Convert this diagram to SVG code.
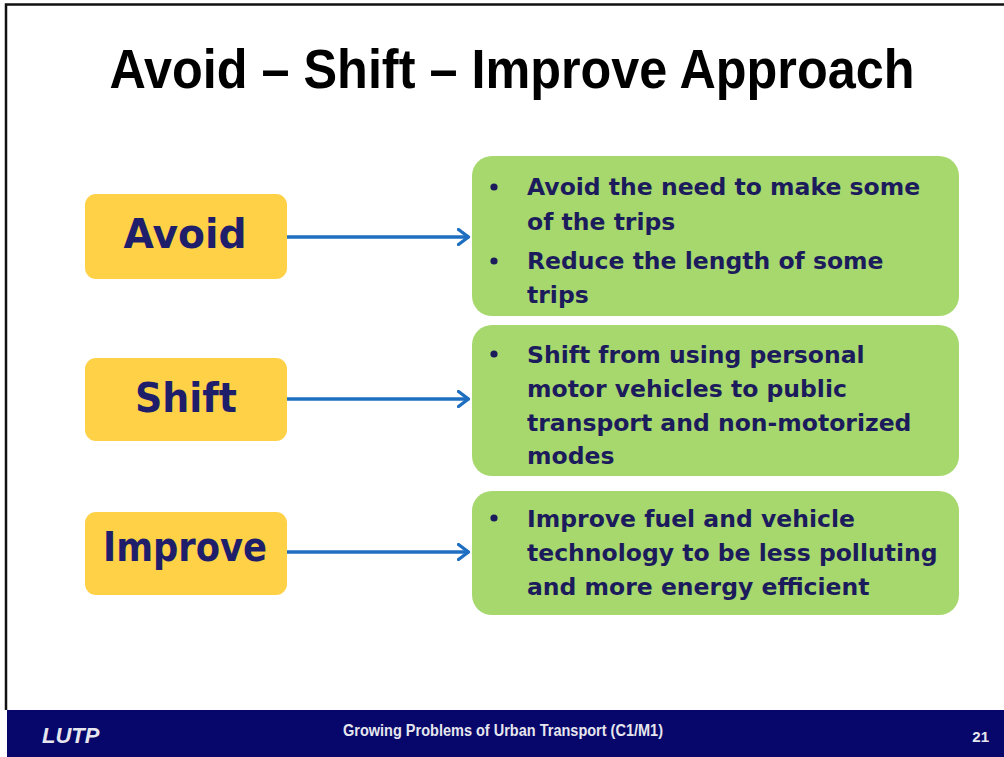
<svg xmlns="http://www.w3.org/2000/svg" width="1004" height="757" viewBox="0 0 1004 757">
<style>
.title{font-family:"Liberation Sans",Arial,sans-serif;font-weight:bold;font-size:56px;fill:#000}
.lbox{fill:#FFD147}
.gbox{fill:#A6D86E}
.lbl{font-family:"DejaVu Sans",Verdana,sans-serif;font-weight:bold;font-size:41px;fill:#1E1E6A;text-anchor:middle}
.txt{font-family:"DejaVu Sans",Verdana,sans-serif;font-weight:bold;font-size:23.5px;fill:#1C1C5C}
.bul{fill:#1C1C5C}
.conn{stroke:#1F6FC0;stroke-width:3.5;fill:none}
.foot{font-family:"Liberation Sans",Arial,sans-serif;font-weight:bold;fill:#E6E6EE}
</style>
<defs>
<marker id="arr" viewBox="0 0 13 18" refX="12" refY="9" markerWidth="13" markerHeight="18" markerUnits="userSpaceOnUse" orient="auto">
<path d="M1.5,1.5 L11.5,9 L1.5,16.5" fill="none" stroke="#1F6FC0" stroke-width="3.4" stroke-linecap="round" stroke-linejoin="round"/>
</marker>
</defs>
<rect x="0" y="0" width="1004" height="757" fill="#fff"/>
<path d="M6,710 V4.5 H1004" fill="none" stroke="#111" stroke-width="2.5"/>
<text class="title" x="512" y="88" text-anchor="middle" textLength="805" lengthAdjust="spacingAndGlyphs">Avoid – Shift – Improve Approach</text>

<g id="avoid">
<rect class="lbox" x="85" y="194" width="202" height="85" rx="11"/>
<text class="lbl" x="185" y="248" textLength="123" lengthAdjust="spacingAndGlyphs">Avoid</text>
</g>
<g id="shift">
<rect class="lbox" x="85" y="358" width="202" height="83" rx="11"/>
<text class="lbl" x="186" y="412" textLength="102" lengthAdjust="spacingAndGlyphs">Shift</text>
</g>
<g id="improve">
<rect class="lbox" x="85" y="512" width="202" height="83" rx="11"/>
<text class="lbl" x="185" y="561" textLength="164" lengthAdjust="spacingAndGlyphs">Improve</text>
</g>

<g id="avoid-detail">
<rect class="gbox" x="472" y="156" width="487" height="160" rx="20"/>
<circle class="bul" cx="494" cy="187" r="3.6"/>
<text class="txt" x="527" y="195">Avoid the need to make some</text>
<text class="txt" x="527" y="230">of the trips</text>
<circle class="bul" cx="494" cy="261" r="3.6"/>
<text class="txt" x="527" y="269">Reduce the length of some</text>
<text class="txt" x="527" y="303">trips</text>
</g>
<g id="shift-detail">
<rect class="gbox" x="472" y="325" width="487" height="151" rx="20"/>
<circle class="bul" cx="494" cy="354" r="3.6"/>
<text class="txt" x="527" y="363">Shift from using personal</text>
<text class="txt" x="527" y="397">motor vehicles to public</text>
<text class="txt" x="527" y="431">transport and non-motorized</text>
<text class="txt" x="527" y="464">modes</text>
</g>
<g id="improve-detail">
<rect class="gbox" x="472" y="491" width="487" height="124" rx="20"/>
<circle class="bul" cx="494" cy="518" r="3.6"/>
<text class="txt" x="527" y="527">Improve fuel and vehicle</text>
<text class="txt" x="527" y="561">technology to be less polluting</text>
<text class="txt" x="527" y="595">and more energy efficient</text>
</g>

<g id="connectors">
<line class="conn" x1="287" y1="237" x2="469" y2="237" marker-end="url(#arr)"/>
<line class="conn" x1="287" y1="399" x2="469" y2="399" marker-end="url(#arr)"/>
<line class="conn" x1="287" y1="552" x2="469" y2="552" marker-end="url(#arr)"/>
</g>

<g id="footer">
<rect x="7" y="710" width="997" height="47" fill="#07076B"/>
<text class="foot" x="42" y="743" font-size="22" font-style="italic" fill="#fff">LUTP</text>
<text class="foot" x="503" y="736" font-size="16" text-anchor="middle" textLength="320" lengthAdjust="spacingAndGlyphs">Growing Problems of Urban Transport (C1/M1)</text>
<text class="foot" x="989" y="742" font-size="15" text-anchor="end">21</text>
</g>
</svg>
